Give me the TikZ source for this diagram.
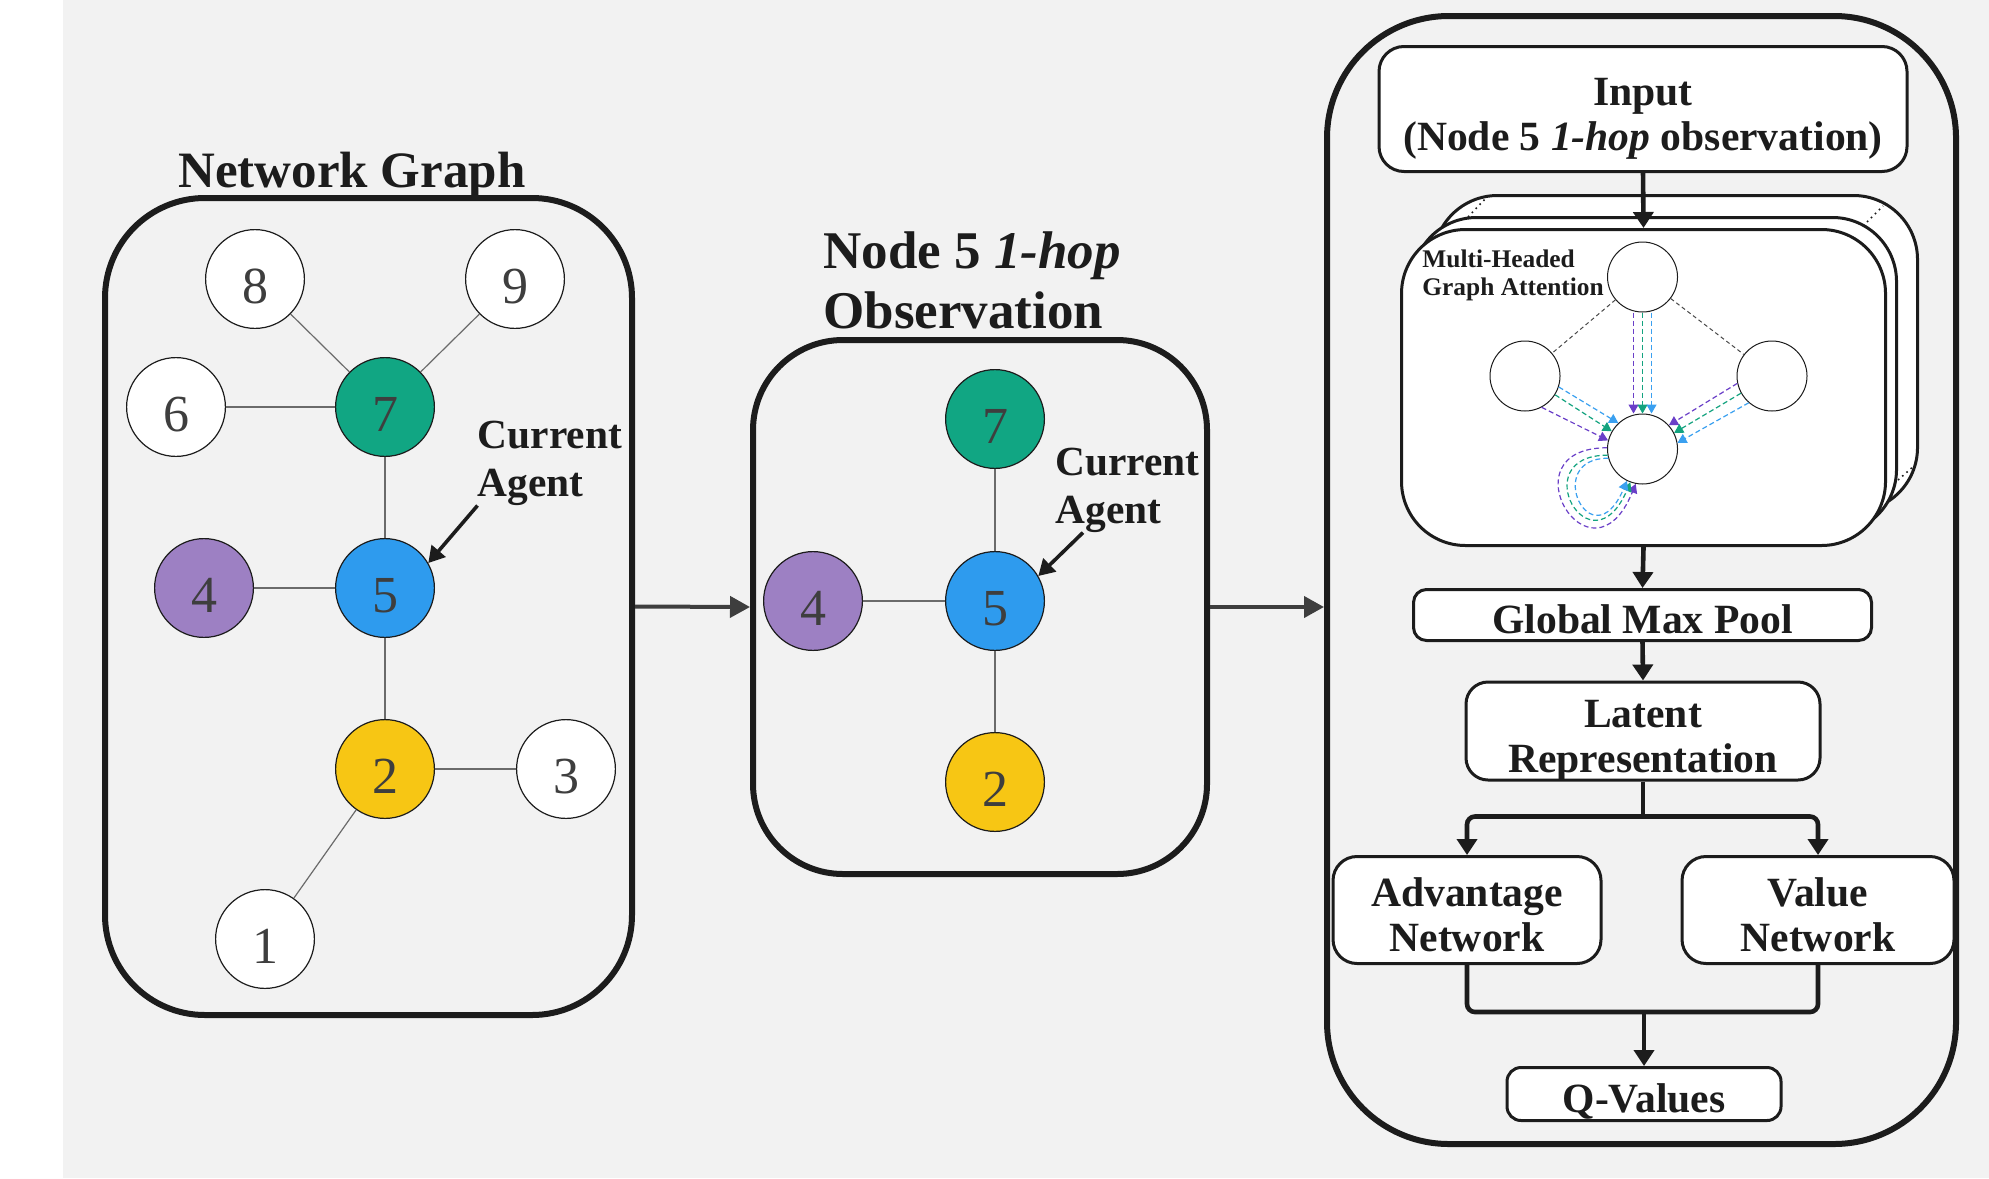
\documentclass[tikz,border=0pt]{standalone}
\usepackage{fontspec}
\setmainfont{Liberation Serif}
\usetikzlibrary{arrows.meta,calc}

\definecolor{bggray}{HTML}{F2F2F2}
\definecolor{ink}{HTML}{1C1C1C}
\definecolor{agtgreen}{HTML}{11A683}
\definecolor{agtblue}{HTML}{2E9BEE}
\definecolor{agtpurple}{HTML}{9D80C3}
\definecolor{agtyellow}{HTML}{F7C614}
\definecolor{hdpurple}{HTML}{6A3FC8}
\definecolor{hdgreen}{HTML}{13A37F}
\definecolor{hdblue}{HTML}{3AA0F0}

\tikzset{
  panel/.style={draw=ink, line width=3pt, inner sep=0pt},
  vertex/.style={circle, draw=ink, line width=0.6pt, fill=white, minimum size=49.4pt,
    inner sep=0pt, text=ink!85, text height=24.5pt, text depth=0pt,
    font=\fontsize{26}{26}\selectfont},
  link/.style={draw=ink!65, line width=0.6pt},
  heading/.style={text=ink, inner sep=0pt, font=\bfseries\fontsize{25.5}{30}\selectfont},
  agentlbl/.style={text=ink, inner sep=0pt, align=left, font=\bfseries\fontsize{20.7}{24}\selectfont},
  pointer/.style={draw=ink, line width=1.8pt, -{Triangle[length=8pt,width=9pt]}},
  pass/.style={draw=ink!85, line width=2pt, -{Triangle[length=10pt,width=10.5pt]}},
  fbox/.style={draw=ink, line width=1.5pt, fill=white, inner sep=0pt, align=center,
    text=ink, text height=18.5pt, text depth=0pt, font=\bfseries\fontsize{20.8}{22.75}\selectfont},
  twoline/.style={text height=41.5pt, text depth=0pt},
  flow/.style={draw=ink, line width=2.3pt, -{Triangle[length=8pt,width=10pt]}},
  card/.style={draw=ink, line width=1.5pt, fill=white, rounded corners=32pt,
    minimum width=242pt, minimum height=158pt},
  attnode/.style={circle, draw=ink, line width=0.5pt, fill=white, minimum size=35pt, inner sep=0pt},
  msg/.style={line width=0.6pt, dash pattern=on 2.5pt off 1.5pt, -{Triangle[length=4.5pt,width=5pt]}},
}

\begin{document}
\begin{tikzpicture}[x=0.5pt, y=-0.5pt]
\useasboundingbox (0,0) rectangle (1989,1178);
\fill[white] (0,0) rectangle (1989,1178);
\fill[bggray] (63,0) rectangle (1989,1178);

% network graph
\node[panel, rounded corners=50pt, minimum width=263.5pt, minimum height=408.5pt] (graphbox) at (368.5,606.5) {};
\node[heading, anchor=base] (graphtitle) at (352,187) {Network Graph};
\node[vertex] (g8) at (255,279) {8};
\node[vertex] (g9) at (515,279) {9};
\node[vertex] (g6) at (176,407) {6};
\node[vertex, fill=agtgreen] (g7) at (385,407) {7};
\node[vertex, fill=agtpurple] (g4) at (204,588) {4};
\node[vertex, fill=agtblue] (g5) at (385,588) {5};
\node[vertex, fill=agtyellow] (g2) at (385,769) {2};
\node[vertex] (g3) at (566,769) {3};
\node[vertex] (g1) at (265,939) {1};
\foreach \a/\b in {8/7,9/7,6/7,7/5,4/5,5/2,2/3,2/1}
  \draw[link] (g\a) -- (g\b);
\node[agentlbl, anchor=base west] (cur1) at (477.5,496) {Current\\Agent};
\draw[pointer] (cur1.south west) -- (g5.30);

% 1-hop observation
\node[panel, rounded corners=45pt, minimum width=227pt, minimum height=267pt] (obsbox) at (980,607) {};
\node[heading, anchor=base west, align=left, font=\bfseries\fontsize{26.5}{30}\selectfont] (obstitle) at (823,328) {Node 5 \textit{1-hop}\\Observation};
\node[vertex, fill=agtgreen] (o7) at (995,419) {7};
\node[vertex, fill=agtpurple] (o4) at (813,601) {4};
\node[vertex, fill=agtblue] (o5) at (995,601) {5};
\node[vertex, fill=agtyellow] (o2) at (995,782) {2};
\foreach \a/\b in {7/5,4/5,5/2}
  \draw[link] (o\a) -- (o\b);
\node[agentlbl, anchor=base west] (cur2) at (1055,523) {Current\\Agent};
\draw[pointer] ([xshift=14pt]cur2.south west) -- (o5.30);

% model
\node[panel, rounded corners=61pt, minimum width=314.5pt, minimum height=564pt] (modelbox) at (1641.5,580) {};
\draw[pass] (graphbox.east) -- (obsbox.west);
\draw[pass] (obsbox.east) -- (obsbox.east -| modelbox.west);

\node[fbox, twoline, rounded corners=12.5pt, minimum width=264pt, minimum height=62.5pt] (inp) at (1643,109) {Input\\(Node 5 \textit{1-hop} observation)};
\node[card] (card3) at (1675.5,353.5) {};
\node[card] (card2) at (1654.5,375.5) {};
\draw[ink, line width=0.8pt, dotted] ($(card2.north west)+(57,1)$) -- ($(card3.north west)+(54,4)$);
\draw[ink, line width=0.8pt, dotted] ($(card2.north east)+(-31,6)$) -- ($(card3.north east)+(-36,12)$);
\draw[ink, line width=0.8pt, dotted] ($(card2.south east)+(0,-55)$) -- ($(card3.south east)+(-4,-48)$);
\node[card] (card1) at (1643.5,387.5) {};
\draw[flow] (inp.south) -- (card1.north);
\node[anchor=base west, align=left, text=ink, inner sep=0pt, font=\bfseries\fontsize{12.7}{14}\selectfont] (mhtitle) at (1422,295) {Multi-Headed\\Graph Attention};

% attention heads
\node[attnode] (h0) at (1642.5,277) {};
\node[attnode] (h1) at (1525,376) {};
\node[attnode] (h2) at (1772,376) {};
\node[attnode] (h3) at (1642.5,449) {};
\draw[ink!80, line width=0.5pt, dash pattern=on 2pt off 1.5pt] (h0) -- (h1);
\draw[ink!80, line width=0.5pt, dash pattern=on 2pt off 1.5pt] (h0) -- (h2);
\draw[msg, hdpurple] ([xshift=-4.5pt]h0.south) -- ([xshift=-4.5pt]h3.north);
\draw[msg, hdgreen] (h0.south) -- (h3.north);
\draw[msg, hdblue] ([xshift=4.5pt]h0.south) -- ([xshift=4.5pt]h3.north);
\draw[msg, hdblue] (h1.-18) -- (h3.133);
\draw[msg, hdgreen] (h1.-32) -- (h3.150);
\draw[msg, hdpurple] (h1.-62) -- (h3.166);
\draw[msg, hdpurple] (h2.-168) -- (h3.42);
\draw[msg, hdgreen] (h2.-151) -- (h3.27);
\draw[msg, hdblue] (h2.-131) -- (h3.10);
\draw[msg, hdpurple] (h3.178) .. controls +(-104,0) and +(-45,110) .. (h3.-101);
\draw[msg, hdgreen] (h3.190) .. controls +(-84,0) and +(-40,92) .. (h3.-110);
\draw[msg, hdblue] (h3.195) .. controls +(-67,0) and +(-35,82) .. (h3.-116);

% head outputs
\node[fbox, rounded corners=6.5pt, minimum width=229pt, minimum height=25.5pt] (gmp) at (1642.5,615) {Global Max Pool};
\node[fbox, twoline, rounded corners=11pt, minimum width=177pt, minimum height=49pt] (lat) at (1643,731) {Latent\\Representation};
\node[fbox, twoline, rounded corners=12pt, minimum width=134pt, minimum height=53.5pt] (adv) at (1467,910) {Advantage\\Network};
\node[fbox, twoline, rounded corners=12pt, minimum width=136pt, minimum height=53.5pt] (val) at (1818,910) {Value\\Network};
\node[fbox, rounded corners=7pt, minimum width=137pt, minimum height=26.5pt] (qv) at (1644,1094) {Q-Values};
\draw[flow] (card1.south) -- (gmp.north);
\draw[flow] (gmp.south) -- (lat.north);
\coordinate (split) at ($(lat.south)+(0,35)$);
\draw[ink, line width=2.3pt] (lat.south) -- (split);
\draw[flow, rounded corners=4pt] (split) -| (adv.north);
\draw[flow, rounded corners=4pt] (split) -| (val.north);
\coordinate (merge) at ($(qv.north)+(0,-54)$);
\draw[ink, line width=2.3pt, rounded corners=4pt] (adv.south) |- (merge) -| (val.south);
\draw[flow] (merge) -- (qv.north);
\end{tikzpicture}
\end{document}
